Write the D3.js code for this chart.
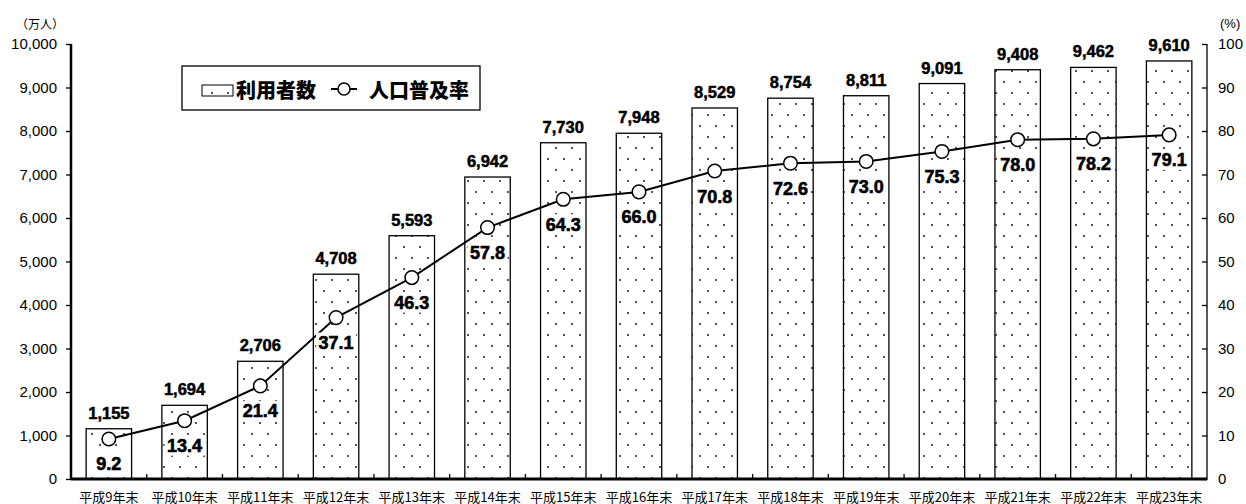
<!DOCTYPE html>
<html><head><meta charset="utf-8">
<script src="https://cdn.jsdelivr.net/npm/d3@7"></script>
<style>body{margin:0;background:#fff}svg{display:block}</style>
</head><body><svg id="c" width="1246" height="504"></svg>
<script>
const categories = ["平成9年末","平成10年末","平成11年末","平成12年末","平成13年末","平成14年末","平成15年末","平成16年末","平成17年末","平成18年末","平成19年末","平成20年末","平成21年末","平成22年末","平成23年末"];
const users = [1155,1694,2706,4708,5593,6942,7730,7948,8529,8754,8811,9091,9408,9462,9610];
const rate = [9.2,13.4,21.4,37.1,46.3,57.8,64.3,66.0,70.8,72.6,73.0,75.3,78.0,78.2,79.1];
const leftTicks = [0,1000,2000,3000,4000,5000,6000,7000,8000,9000,10000];
const rightTicks = [0,10,20,30,40,50,60,70,80,90,100];

const svg = d3.select("#c");
const L = 71, R = 1207, T = 44, B = 479;
const x = d3.scaleBand().domain(categories).range([L, R]).padding(0);
const yL = d3.scaleLinear().domain([0, 10000]).range([B, T]);
const yR = d3.scaleLinear().domain([0, 100]).range([B, T]);
const fmt = d3.format(",");
const latin = "'Liberation Sans', Arial, sans-serif";
const cjk = "'Noto Sans CJK JP', sans-serif";

const defs = svg.append("defs");
const pat = defs.append("pattern").attr("id","dots").attr("patternUnits","userSpaceOnUse")
  .attr("width",16).attr("height",22);
pat.append("rect").attr("width",16).attr("height",22).attr("fill","#fff");
pat.append("rect").attr("x",3).attr("y",4).attr("width",2).attr("height",2).attr("fill","#555");
pat.append("rect").attr("x",11).attr("y",15).attr("width",2).attr("height",2).attr("fill","#555");

// bars
const bw = x.bandwidth() * 0.6;
svg.append("g").selectAll("rect").data(users).join("rect")
  .attr("x", (d,i) => x(categories[i]) + (x.bandwidth()-bw)/2)
  .attr("y", d => yL(d)).attr("width", bw).attr("height", d => B - yL(d))
  .attr("fill","url(#dots)").attr("stroke","#000").attr("stroke-width",1.3);

// bar labels
svg.append("g").selectAll("text").data(users).join("text")
  .attr("x", (d,i) => x(categories[i]) + x.bandwidth()/2)
  .attr("y", d => yL(d) - 10)
  .attr("text-anchor","middle").attr("font-family",latin).attr("font-weight","bold")
  .attr("font-size",16.5).attr("stroke","#000").attr("stroke-width",0.5).text(d => fmt(d));

// axes
const axL = d3.axisLeft(yL).tickValues(leftTicks).tickFormat(fmt).tickSize(5).tickPadding(9);
const gL = svg.append("g").attr("transform",`translate(${L},0)`).call(axL);
const axR = d3.axisRight(yR).tickValues(rightTicks).tickSize(-5).tickPadding(11);
const gR = svg.append("g").attr("transform",`translate(${R},0)`).call(axR);
[gL,gR].forEach(g => {
  g.selectAll("text").attr("font-family",latin).attr("font-size",15).attr("fill","#000");
  g.selectAll(".tick line").attr("stroke-width",1.3);
  g.select(".domain").remove();
});
svg.append("line").attr("x1",L).attr("x2",L).attr("y1",T).attr("y2",B+1).attr("stroke","#000").attr("stroke-width",2.5);
svg.append("line").attr("x1",R).attr("x2",R).attr("y1",T).attr("y2",B+1).attr("stroke","#000").attr("stroke-width",1.3);

// bottom axis
const gB = svg.append("g").attr("transform",`translate(0,${B})`);
gB.append("line").attr("x1",L).attr("x2",R).attr("stroke","#000").attr("stroke-width",3);
gB.selectAll(".tk").data(categories.slice(1)).join("line")
  .attr("x1", d => x(d)).attr("x2", d => x(d)).attr("y1",0).attr("y2",-5)
  .attr("stroke","#000").attr("stroke-width",1.3);
gB.selectAll("text").data(categories).join("text")
  .attr("x", d => x(d) + x.bandwidth()/2).attr("y", 17)
  .attr("dominant-baseline","central")
  .attr("text-anchor","middle").attr("font-family",cjk).attr("font-size",13).text(d => d);

// units
svg.append("text").attr("x",16).attr("y",23).attr("dominant-baseline","central")
  .attr("font-family",cjk).attr("font-size",12).text("（万人）");
svg.append("text").attr("x",1220).attr("y",23).attr("dominant-baseline","central")
  .attr("font-family",latin).attr("font-size",13).text("(%)");

// line
const cx = (i) => x(categories[i]) + x.bandwidth()/2;
svg.append("path").datum(rate)
  .attr("d", d3.line().x((d,i) => cx(i)).y(d => yR(d)))
  .attr("fill","none").attr("stroke","#000").attr("stroke-width",2);

// rate labels with white background
const rl = svg.append("g").selectAll("g").data(rate).join("g")
  .attr("transform",(d,i) => `translate(${cx(i)},${yR(d)+25})`);
rl.append("rect").attr("x",-20).attr("y",-10).attr("width",40).attr("height",20).attr("fill","#fff");
rl.append("text").attr("text-anchor","middle").attr("dy","0.36em")
  .attr("font-family",latin).attr("font-weight","bold").attr("font-size",18)
  .attr("stroke","#000").attr("stroke-width",0.6).text(d => d.toFixed(1));

svg.append("g").selectAll("circle").data(rate).join("circle")
  .attr("cx",(d,i) => cx(i)).attr("cy", d => yR(d)).attr("r",6.8)
  .attr("fill","#fff").attr("stroke","#000").attr("stroke-width",1.5);

// legend
const lg = svg.append("g");
lg.append("rect").attr("x",182).attr("y",66).attr("width",298).attr("height",44)
  .attr("fill","#fff").attr("stroke","#000").attr("stroke-width",1.3);
lg.append("rect").attr("x",202).attr("y",85).attr("width",31).attr("height",11)
  .attr("fill","url(#dots)").attr("stroke","#000").attr("stroke-width",1);
lg.append("text").attr("x",236).attr("y",89).attr("dominant-baseline","central")
  .attr("font-family",cjk).attr("font-weight","900").attr("font-size",20).text("利用者数");
lg.append("line").attr("x1",331).attr("x2",357).attr("y1",89).attr("y2",89).attr("stroke","#000").attr("stroke-width",2);
lg.append("circle").attr("cx",344).attr("cy",89).attr("r",6).attr("fill","#fff").attr("stroke","#000").attr("stroke-width",1.5);
lg.append("text").attr("x",369).attr("y",89).attr("dominant-baseline","central")
  .attr("font-family",cjk).attr("font-weight","900").attr("font-size",20).text("人口普及率");
</script></body></html>
